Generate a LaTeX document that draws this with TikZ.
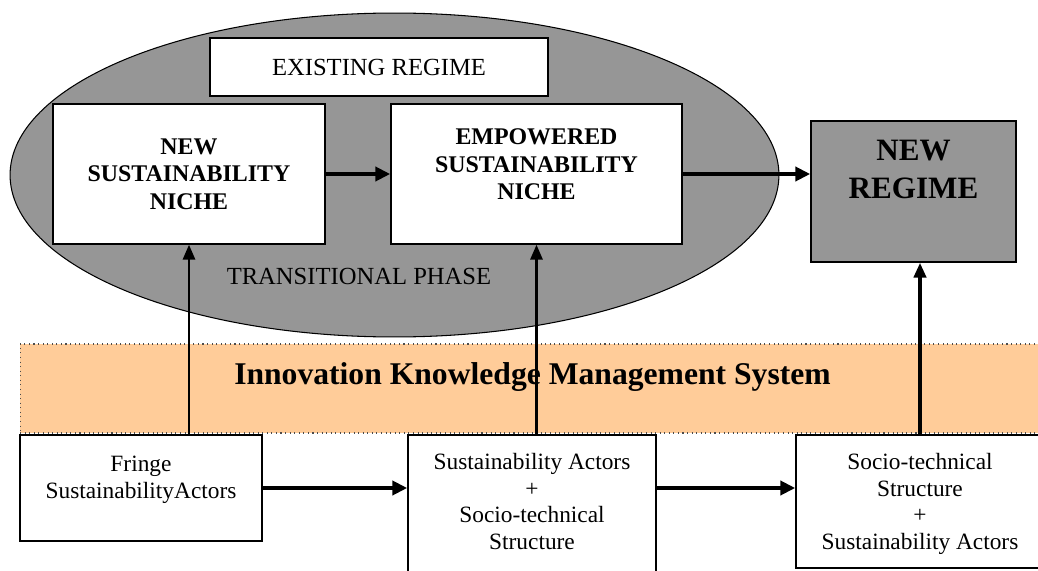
\documentclass[tikz,border=0pt]{standalone}
\usepackage{fontspec}
\setmainfont{Liberation Serif}
\usepackage{xcolor}
\usepackage{tikz}
\usetikzlibrary{shapes}
\usetikzlibrary{shapes.geometric}
\usetikzlibrary{arrows.meta}
\usetikzlibrary{positioning}
\definecolor{regimegray}{RGB}{150,150,150}
\definecolor{bandorange}{RGB}{255,204,153}
\newcommand{\boxtxt}[4]{\parbox[c][#2][t]{#1}{\centering\vspace*{#3}#4}}
\tikzstyle{phase}=[ellipse,draw,fill=regimegray,line width=0.6pt,
minimum width=15.38cm,minimum height=6.48cm]
\tikzstyle{capsbox}=[rectangle,draw,fill=white,line width=0.9pt,inner sep=0pt,
font=\fontsize{14}{16}\selectfont]
\tikzstyle{niche}=[rectangle,draw,fill=white,line width=0.9pt,inner sep=0pt,
align=center,font=\bfseries\fontsize{13.6}{15.6}\selectfont]
\tikzstyle{regime}=[rectangle,draw,fill=regimegray,line width=0.9pt,inner sep=0pt,
font=\bfseries\fontsize{17.7}{21.5}\selectfont]
\tikzstyle{band}=[rectangle,draw=black!70,dotted,fill=bandorange,line width=0.6pt,
inner sep=0pt,font=\bfseries\fontsize{18}{21}\selectfont]
\tikzstyle{actors}=[rectangle,draw,fill=white,line width=0.9pt,inner sep=0pt,
font=\fontsize{13.3}{15.3}\selectfont]
\tikzstyle{flow}=[-{Triangle[length=8.5pt,width=8pt]},line width=2.2pt]
\tikzstyle{rise}=[-{Triangle[length=8.5pt,width=7pt]},line width=1.3pt]

\begin{document}
\begin{tikzpicture}[x=0.02cm,y=-0.02cm]
\useasboundingbox (0,0) rectangle (1038,571);
\node[phase] (phase) at (394.5,175) {};
\node[capsbox,minimum width=6.76cm,minimum height=1.16cm] (existing) at (379,67) {EXISTING REGIME};
\node[font=\fontsize{14}{16}\selectfont] (transition) at (359,276) {TRANSITIONAL PHASE};
\node[niche,minimum width=5.44cm,minimum height=2.8cm] (newniche) at (189,174) {NEW\\SUSTAINABILITY\\NICHE};
\node[niche,minimum width=5.82cm,minimum height=2.8cm] (empniche) at (536.5,174)
{\boxtxt{5.82cm}{2.8cm}{0.5cm}{EMPOWERED\\SUSTAINABILITY\\NICHE}};
\node[regime,minimum width=4.1cm,minimum height=2.82cm] (newregime) at (913.5,191.5)
{\boxtxt{4.1cm}{2.82cm}{0.38cm}{NEW\\REGIME}};
\node[band,minimum width=20.5cm,minimum height=1.78cm] (ikms) at (532.5,388.5)
{\boxtxt{20.5cm}{1.78cm}{0.38cm}{Innovation Knowledge Management System}};
\node[actors,minimum width=4.84cm,minimum height=2.12cm] (fringe) at (141,488)
{\boxtxt{4.84cm}{2.12cm}{0.42cm}{Fringe\\SustainabilityActors}};
\node[actors,minimum width=4.96cm,minimum height=3.1cm] (stsbox) at (532,512.5)
{\boxtxt{4.96cm}{3.1cm}{0.36cm}{Sustainability Actors\\+\\Socio-technical\\Structure}};
\node[actors,minimum width=4.96cm,minimum height=2.66cm] (stbox) at (920,501.5)
{\boxtxt{4.96cm}{2.66cm}{0.36cm}{Socio-technical\\Structure\\+\\Sustainability Actors}};
%Placement des fleches
\draw[flow] (newniche) -- (empniche);
\draw[flow] (empniche) -- (empniche -| newregime.west);
\draw[flow] (fringe.east) -- (fringe.east -| stsbox.west);
\draw[flow] (fringe.east -| stsbox.east) -- (fringe.east -| stbox.west);
\draw[rise] (newniche.south |- fringe.north) -- (newniche.south);
\draw[rise] (empniche.south |- stsbox.north) -- (empniche.south);
\draw[rise,line width=2pt] (stbox.north) -- (stbox.north |- newregime.south);
\end{tikzpicture}
\end{document}
